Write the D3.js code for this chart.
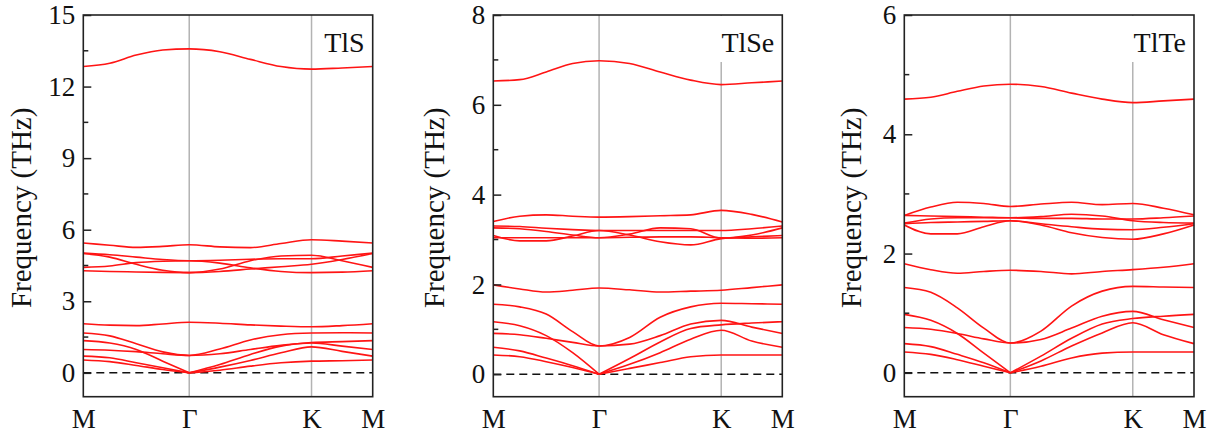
<!DOCTYPE html>
<html>
<head>
<meta charset="utf-8">
<script src="https://cdn.jsdelivr.net/npm/d3@7"></script>
<style>
  html, body { margin: 0; padding: 0; background: #fff; }
  svg { display: block; }
  text { font-family: "Liberation Serif", "Times New Roman", serif; fill: #111; }
</style>
</head>
<body>
<svg id="chart" width="1220" height="437"></svg>
<script>
// High-symmetry path M–Γ–K–M (path length in units of 2π/a)
const kLabels = ["M", "Γ", "K", "M"];
const kTicks = [0, 0.5774, 1.2440, 1.5774];
// q-points at which band frequencies are listed
const qPath = [0, 0.1443, 0.2887, 0.4330, 0.5774, 0.7440, 0.9107, 1.0774, 1.2440, 1.4107, 1.5774];

// Phonon bands (THz) at the q-points above
const tlsBands = [
  [12.84, 12.98, 13.32, 13.53, 13.58, 13.46, 13.14, 12.84, 12.73, 12.78, 12.84],
  [5.44, 5.35, 5.26, 5.30, 5.37, 5.28, 5.25, 5.42, 5.58, 5.52, 5.44],
  [5.02, 4.95, 4.85, 4.75, 4.70, 4.72, 4.76, 4.78, 4.78, 4.90, 5.02],
  [5.00, 4.85, 4.55, 4.30, 4.20, 4.35, 4.70, 4.90, 4.93, 4.70, 4.42],
  [4.42, 4.48, 4.62, 4.68, 4.70, 4.60, 4.40, 4.25, 4.20, 4.22, 4.28],
  [4.28, 4.25, 4.23, 4.21, 4.20, 4.25, 4.35, 4.45, 4.55, 4.75, 5.00],
  [2.06, 2.00, 1.98, 2.05, 2.12, 2.08, 2.01, 1.96, 1.93, 1.98, 2.06],
  [1.67, 1.55, 1.22, 0.88, 0.73, 1.00, 1.38, 1.60, 1.67, 1.68, 1.67],
  [1.35, 1.25, 0.98, 0.49, 0, 0.35, 0.77, 1.12, 1.27, 1.31, 1.35],
  [0.98, 0.95, 0.89, 0.80, 0.73, 0.80, 0.98, 1.15, 1.25, 1.12, 0.98],
  [0.70, 0.63, 0.42, 0.21, 0, 0.24, 0.52, 0.84, 1.09, 0.90, 0.70],
  [0.54, 0.47, 0.31, 0.14, 0, 0.11, 0.28, 0.42, 0.49, 0.51, 0.54]
];

const tlseBands = [
  [6.53, 6.56, 6.73, 6.92, 6.98, 6.92, 6.73, 6.55, 6.45, 6.49, 6.53],
  [3.40, 3.52, 3.55, 3.52, 3.50, 3.51, 3.53, 3.55, 3.65, 3.56, 3.39],
  [3.30, 3.29, 3.25, 3.22, 3.20, 3.20, 3.20, 3.20, 3.20, 3.24, 3.30],
  [3.26, 3.24, 3.18, 3.10, 3.04, 3.12, 3.26, 3.24, 3.03, 3.10, 3.26],
  [3.09, 2.97, 2.97, 3.08, 3.20, 3.10, 2.95, 2.88, 3.02, 3.06, 3.09],
  [3.04, 3.04, 3.04, 3.04, 3.04, 3.05, 3.06, 3.06, 3.04, 3.03, 3.04],
  [1.99, 1.90, 1.83, 1.87, 1.92, 1.88, 1.83, 1.85, 1.87, 1.93, 1.99],
  [1.56, 1.50, 1.34, 0.95, 0.63, 0.82, 1.27, 1.50, 1.58, 1.57, 1.56],
  [1.17, 1.08, 0.86, 0.48, 0, 0.35, 0.72, 1.02, 1.10, 1.14, 1.17],
  [0.91, 0.88, 0.80, 0.71, 0.63, 0.67, 0.86, 1.12, 1.20, 1.05, 0.91],
  [0.60, 0.52, 0.36, 0.19, 0, 0.22, 0.48, 0.78, 0.98, 0.74, 0.60],
  [0.43, 0.39, 0.28, 0.15, 0, 0.13, 0.26, 0.39, 0.43, 0.43, 0.43]
];

const tlteBands = [
  [4.59, 4.62, 4.72, 4.81, 4.84, 4.80, 4.69, 4.59, 4.53, 4.56, 4.59],
  [2.64, 2.78, 2.86, 2.84, 2.79, 2.83, 2.86, 2.82, 2.84, 2.76, 2.65],
  [2.64, 2.63, 2.62, 2.61, 2.60, 2.62, 2.66, 2.63, 2.55, 2.52, 2.51],
  [2.51, 2.58, 2.60, 2.60, 2.60, 2.59, 2.59, 2.58, 2.58, 2.60, 2.63],
  [2.50, 2.52, 2.53, 2.54, 2.55, 2.50, 2.45, 2.41, 2.40, 2.44, 2.50],
  [2.48, 2.33, 2.33, 2.45, 2.55, 2.48, 2.35, 2.27, 2.24, 2.33, 2.48],
  [1.83, 1.73, 1.67, 1.70, 1.72, 1.70, 1.66, 1.70, 1.73, 1.77, 1.83],
  [1.43, 1.35, 1.09, 0.75, 0.50, 0.70, 1.12, 1.37, 1.45, 1.44, 1.43],
  [0.98, 0.88, 0.66, 0.33, 0, 0.28, 0.58, 0.82, 0.91, 0.95, 0.98],
  [0.76, 0.73, 0.66, 0.57, 0.50, 0.56, 0.75, 0.95, 1.03, 0.89, 0.76],
  [0.49, 0.44, 0.31, 0.17, 0, 0.20, 0.45, 0.67, 0.84, 0.64, 0.49],
  [0.35, 0.31, 0.22, 0.11, 0, 0.11, 0.25, 0.33, 0.35, 0.35, 0.35]
];

const tlsTicks = [0, 3, 6, 9, 12, 15];
const tlseTicks = [0, 2, 4, 6, 8];
const tlteTicks = [0, 2, 4, 6];

const panelNames = ["TlS", "TlSe", "TlTe"];

// Layout of the three panels (pixels)
const panels = [
  { name: panelNames[0], bands: tlsBands, ticks: tlsTicks, domain: [-1, 15], left: 83.3, right: 372.7, titleX: 31 },
  { name: panelNames[1], bands: tlseBands, ticks: tlseTicks, domain: [-0.5, 8], left: 493.3, right: 782.3, titleX: 443.5 },
  { name: panelNames[2], bands: tlteBands, ticks: tlteTicks, domain: [-0.4, 6], left: 904.3, right: 1194, titleX: 861 }
];
const plotTop = 15, plotBottom = 396.7;
const fontSize = 27;
const serif = '"Liberation Serif", "Times New Roman", serif';

const svg = d3.select("#chart");
svg.append("rect").attr("width", 1220).attr("height", 437).attr("fill", "#fff");

panels.forEach(p => {
  const g = svg.append("g");
  const x = d3.scaleLinear().domain([kTicks[0], kTicks[kTicks.length - 1]]).range([p.left, p.right]);
  const y = d3.scaleLinear().domain(p.domain).range([plotBottom, plotTop]);

  // vertical guides at Γ and K
  g.selectAll("line.kline").data(kTicks.slice(1, -1)).join("line")
    .attr("class", "kline")
    .attr("x1", d => x(d)).attr("x2", d => x(d))
    .attr("y1", plotTop).attr("y2", plotBottom)
    .attr("stroke", "#b3b3b3").attr("stroke-width", 1.5);

  // zero-frequency reference
  g.append("line")
    .attr("x1", p.left).attr("x2", p.right)
    .attr("y1", y(0)).attr("y2", y(0))
    .attr("stroke", "#111").attr("stroke-width", 1.5)
    .attr("stroke-dasharray", "8,5");

  // bands: split at points where the branch goes to zero (acoustic cusp at Γ)
  const line = d3.line().x(d => x(d[0])).y(d => y(d[1])).curve(d3.curveMonotoneX);
  p.bands.forEach(band => {
    const pts = band.map((v, i) => [qPath[i], v]);
    const segs = [];
    let start = 0;
    pts.forEach((pt, i) => {
      if (pt[1] === 0 && i > 0 && i < pts.length - 1) {
        segs.push(pts.slice(start, i + 1));
        start = i;
      }
    });
    segs.push(pts.slice(start));
    segs.forEach(s => {
      g.append("path").attr("d", line(s))
        .attr("fill", "none").attr("stroke", "#ff1414").attr("stroke-width", 1.6);
    });
  });

  // compound label with an opaque backing box
  const label = g.append("text")
    .attr("x", p.right - 8).attr("y", 52)
    .attr("text-anchor", "end")
    .style("font-family", serif)
    .attr("font-size", 28)
    .text(p.name);
  const bb = label.node().getBBox();
  g.insert("rect", "text")
    .attr("x", bb.x - 3).attr("y", plotTop + 1)
    .attr("width", p.right - bb.x + 2).attr("height", 62 - plotTop - 1)
    .attr("fill", "#fff");

  // y axis with inward ticks
  const minor = d3.range(p.ticks.length - 1).map(i => (p.ticks[i] + p.ticks[i + 1]) / 2);
  const yAxis = d3.axisLeft(y).tickValues(p.ticks).tickSize(-8).tickPadding(8).tickFormat(d3.format("d"));
  const ay = g.append("g").attr("transform", `translate(${p.left},0)`).call(yAxis);
  ay.attr("font-family", null);
  ay.select(".domain").remove();
  ay.selectAll("line").attr("stroke", "#222").attr("stroke-width", 1.5);
  ay.selectAll("text").attr("font-size", fontSize).style("font-family", serif).attr("fill", "#111");
  g.selectAll("line.minor").data(minor).join("line")
    .attr("class", "minor")
    .attr("x1", p.left).attr("x2", p.left + 5)
    .attr("y1", d => y(d)).attr("y2", d => y(d))
    .attr("stroke", "#222").attr("stroke-width", 1.5);

  // x axis labels at high-symmetry points
  const xAxis = d3.axisBottom(x).tickValues(kTicks).tickSize(0).tickPadding(0)
    .tickFormat((d, i) => kLabels[i]);
  const ax = g.append("g").attr("transform", `translate(0,${plotBottom})`).call(xAxis);
  ax.attr("font-family", null);
  ax.select(".domain").remove();
  ax.selectAll("text").attr("font-size", fontSize).attr("dy", null).attr("y", 31)
    .style("font-family", serif).attr("fill", "#111");

  // frame
  g.append("rect")
    .attr("x", p.left).attr("y", plotTop)
    .attr("width", p.right - p.left).attr("height", plotBottom - plotTop)
    .attr("fill", "none").attr("stroke", "#222").attr("stroke-width", 1.6);

  // axis title
  g.append("text")
    .attr("transform", `translate(${p.titleX},${(plotTop + plotBottom) / 2 + 2}) rotate(-90)`)
    .attr("text-anchor", "middle")
    .style("font-family", serif)
    .attr("font-size", 29)
    .text("Frequency (THz)");
});
</script>
</body>
</html>
